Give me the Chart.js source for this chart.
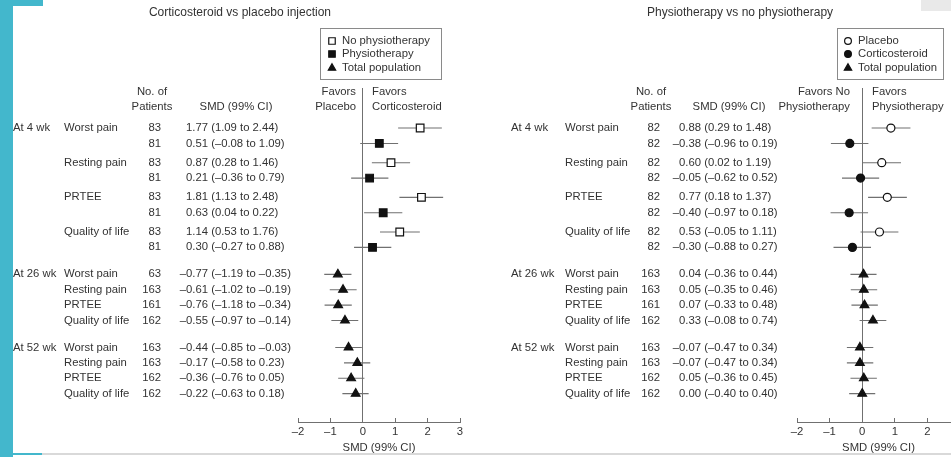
<!DOCTYPE html>
<html>
<head>
<meta charset="utf-8">
<title>SMD forest plots</title>
<script src="https://cdn.jsdelivr.net/npm/chart.js@4.4.1/dist/chart.umd.min.js"></script>
<style>
  html, body { margin: 0; padding: 0; background: #fff; overflow: hidden; }
  body { position: relative; width: 951px; height: 457px; }
  canvas { position: absolute; top: 0; }
  #leftChart { left: 0; }
  #rightChart { left: 480px; }
  .deco { position: absolute; z-index: 2; }
</style>
</head>
<body>
<canvas id="leftChart" width="480" height="457"></canvas>
<canvas id="rightChart" width="520" height="457"></canvas>
<div class="deco" style="left:0;top:0;width:13px;height:457px;background:#43b7cc"></div>
<div class="deco" style="left:0;top:0;width:43px;height:6px;background:#43b7cc"></div>
<div class="deco" style="left:13px;top:453px;width:938px;height:2px;background:#d9d9d9"></div>
<div class="deco" style="left:13px;top:453px;width:29px;height:2px;background:#43b7cc"></div>
<div class="deco" style="left:921px;top:0;width:30px;height:11px;background:#e9e9e9"></div>
<script>
var groups = ['At 4 wk', 'At 26 wk', 'At 52 wk'];
var outcomes = ['Worst pain', 'Resting pain', 'PRTEE', 'Quality of life'];

// corticosteroid vs placebo injection
var csLegend = ['No physiotherapy', 'Physiotherapy', 'Total population'];
var csNoPhysioN   = [83, 83, 83, 83];
var csNoPhysioSmd = [1.77, 0.87, 1.81, 1.14];
var csNoPhysioLo  = [1.09, 0.28, 1.13, 0.53];
var csNoPhysioHi  = [2.44, 1.46, 2.48, 1.76];

var csPhysioN   = [81, 81, 81, 81];
var csPhysioSmd = [0.51, 0.21, 0.63, 0.30];
var csPhysioLo  = [-0.08, -0.36, 0.04, -0.27];
var csPhysioHi  = [1.09, 0.79, 1.22, 0.88];        // whisker as drawn
var csPhysioHiPrinted = [1.09, 0.79, 0.22, 0.88];  // as printed in the table

var cs26N   = [63, 163, 161, 162];
var cs26Smd = [-0.77, -0.61, -0.76, -0.55];
var cs26Lo  = [-1.19, -1.02, -1.18, -0.97];
var cs26Hi  = [-0.35, -0.19, -0.34, -0.14];

var cs52N   = [163, 163, 162, 162];
var cs52Smd = [-0.44, -0.17, -0.36, -0.22];
var cs52Lo  = [-0.85, -0.58, -0.76, -0.63];
var cs52Hi  = [-0.03, 0.23, 0.05, 0.18];

// physiotherapy vs no physiotherapy
var ptLegend = ['Placebo', 'Corticosteroid', 'Total population'];
var ptPlaceboN   = [82, 82, 82, 82];
var ptPlaceboSmd = [0.88, 0.60, 0.77, 0.53];
var ptPlaceboLo  = [0.29, 0.02, 0.18, -0.05];
var ptPlaceboHi  = [1.48, 1.19, 1.37, 1.11];

var ptCortN   = [82, 82, 82, 82];
var ptCortSmd = [-0.38, -0.05, -0.40, -0.30];
var ptCortLo  = [-0.96, -0.62, -0.97, -0.88];
var ptCortHi  = [0.19, 0.52, 0.18, 0.27];

var pt26N   = [163, 163, 161, 162];
var pt26Smd = [0.04, 0.05, 0.07, 0.33];
var pt26Lo  = [-0.36, -0.35, -0.33, -0.08];
var pt26Hi  = [0.44, 0.46, 0.48, 0.74];

var pt52N   = [163, 163, 162, 162];
var pt52Smd = [-0.07, -0.07, 0.05, 0.00];
var pt52Lo  = [-0.47, -0.47, -0.36, -0.40];
var pt52Hi  = [0.34, 0.34, 0.45, 0.40];

var FONT = '"Liberation Sans", Arial, Helvetica, sans-serif';
var INK = '#333';
var LINE = '#707070';
Chart.defaults.font.family = FONT;
Chart.defaults.font.size = 11.3;
Chart.defaults.color = INK;

var markerStyles = {
    openRect:   { style: 'rect', r: 5.4, fill: '#fff' },
    fillRect:   { style: 'rect', r: 5.4, fill: '#111' },
    openCircle: { style: 'circle', r: 4, fill: '#fff' },
    fillCircle: { style: 'circle', r: 4, fill: '#111' },
    tri:        { style: 'triangle', r: 5, fill: '#111' }
};

var leftPanel = {
    id: 'leftChart',
    title: 'Corticosteroid vs placebo injection', titleX: 240,
    padLeft: 298, padRight: 20,
    favors: [['Favors', 'Placebo'], ['Favors', 'Corticosteroid']],
    cols: { group: 13, outcome: 64, n: 161, smd: 186, nHead: 152, smdHead: 236, favL: 356, favR: 372 },
    legend: { x: 320, y: 28, w: 121, h: 51, mx: 332, tx: 342, rows: [41, 54, 68],
              labels: csLegend, markers: ['openRect', 'fillRect', 'tri'] },
    wk4: [
        { marker: 'openRect', n: csNoPhysioN, smd: csNoPhysioSmd, lo: csNoPhysioLo, hi: csNoPhysioHi },
        { marker: 'fillRect', n: csPhysioN, smd: csPhysioSmd, lo: csPhysioLo, hi: csPhysioHi, hiText: csPhysioHiPrinted }
    ],
    later: [
        { marker: 'tri', n: cs26N, smd: cs26Smd, lo: cs26Lo, hi: cs26Hi },
        { marker: 'tri', n: cs52N, smd: cs52Smd, lo: cs52Lo, hi: cs52Hi }
    ]
};

var rightPanel = {
    id: 'rightChart',
    title: 'Physiotherapy vs no physiotherapy', titleX: 260,
    padLeft: 317, padRight: 40,
    favors: [['Favors No', 'Physiotherapy'], ['Favors', 'Physiotherapy']],
    cols: { group: 31, outcome: 85, n: 180, smd: 199, nHead: 171, smdHead: 249, favL: 370, favR: 392 },
    legend: { x: 357, y: 28, w: 106, h: 51, mx: 368, tx: 378, rows: [41, 54, 68],
              labels: ptLegend, markers: ['openCircle', 'fillCircle', 'tri'] },
    wk4: [
        { marker: 'openCircle', n: ptPlaceboN, smd: ptPlaceboSmd, lo: ptPlaceboLo, hi: ptPlaceboHi },
        { marker: 'fillCircle', n: ptCortN, smd: ptCortSmd, lo: ptCortLo, hi: ptCortHi }
    ],
    later: [
        { marker: 'tri', n: pt26N, smd: pt26Smd, lo: pt26Lo, hi: pt26Hi },
        { marker: 'tri', n: pt52N, smd: pt52Smd, lo: pt52Lo, hi: pt52Hi }
    ]
};

// row layout in "row units": pairs at 4 wk, then two blocks of four
var PAIR_STEP = 2.25, BLOCK_START = 9.5, BLOCK_STEP = 4.75;

function buildRows(p) {
    var rows = [];
    for (var k = 0; k < outcomes.length; k++) {
        p.wk4.forEach(function (s, sub) {
            rows.push({ y: k * PAIR_STEP + sub, group: (k === 0 && sub === 0) ? 0 : null,
                        outcome: sub === 0 ? outcomes[k] : '', s: s, k: k });
        });
    }
    p.later.forEach(function (s, gi) {
        for (var k = 0; k < outcomes.length; k++) {
            rows.push({ y: BLOCK_START + gi * BLOCK_STEP + k, group: k === 0 ? gi + 1 : null,
                        outcome: outcomes[k], s: s, k: k });
        }
    });
    return rows;
}

function fmt(v) {
    return (v < 0 ? '\u2013' : '') + Math.abs(v).toFixed(2);
}

function tablePlugin(p, rows) {
    return {
        id: 'table',
        afterDraw: function (chart) {
            var ctx = chart.ctx, ys = chart.scales.y, c = p.cols;
            ctx.save();
            ctx.textBaseline = 'middle';
            ctx.fillStyle = INK;
            function text(t, x, y, align) { ctx.textAlign = align; ctx.fillText(t, x, y); }

            ctx.font = '12px ' + FONT;
            text(p.title, p.titleX, 13, 'center');

            ctx.font = '11.3px ' + FONT;
            text('No. of', c.nHead, 92, 'center');
            text('Patients', c.nHead, 107, 'center');
            text('SMD (99% CI)', c.smdHead, 107, 'center');
            text(p.favors[0][0], c.favL, 92, 'right');
            text(p.favors[0][1], c.favL, 107, 'right');
            text(p.favors[1][0], c.favR, 92, 'left');
            text(p.favors[1][1], c.favR, 107, 'left');

            var dash = ctx.measureText('\u2013').width;
            rows.forEach(function (r) {
                var y = ys.getPixelForValue(r.y), s = r.s, k = r.k;
                if (r.group !== null) text(groups[r.group], c.group, y, 'left');
                if (r.outcome) text(r.outcome, c.outcome, y, 'left');
                text(String(s.n[k]), c.n, y, 'right');
                var hiT = (s.hiText || s.hi)[k];
                var label = fmt(s.smd[k]) + ' (' + fmt(s.lo[k]) + ' to ' + fmt(hiT) + ')';
                text(label, s.smd[k] < 0 ? c.smd - dash : c.smd, y, 'left');
            });

            var L = p.legend;
            ctx.strokeStyle = '#8a8a8a';
            ctx.lineWidth = 1;
            ctx.strokeRect(L.x + 0.5, L.y + 0.5, L.w, L.h);
            L.labels.forEach(function (lab, i) {
                var m = markerStyles[L.markers[i]];
                ctx.fillStyle = m.fill;
                ctx.strokeStyle = '#111';
                ctx.lineWidth = 1.2;
                Chart.helpers.drawPoint(ctx, { pointStyle: m.style, radius: m.r * 0.85, rotation: 0, borderWidth: 1.2 }, L.mx, L.rows[i]);
                ctx.fillStyle = INK;
                text(lab, L.tx, L.rows[i], 'left');
            });
            ctx.restore();
        }
    };
}

function makeChart(p) {
    var rows = buildRows(p);
    var datasets = [];
    ['openRect', 'fillRect', 'openCircle', 'fillCircle', 'tri'].forEach(function (key) {
        var pts = rows.filter(function (r) { return r.s.marker === key; });
        if (!pts.length) return;
        var m = markerStyles[key];
        datasets.push({
            label: key,
            data: pts.map(function (r) { return { x: r.s.smd[r.k], y: r.y }; }),
            pointStyle: m.style,
            pointRadius: m.r,
            pointBackgroundColor: m.fill,
            pointBorderColor: '#111',
            pointBorderWidth: 1.2,
            order: 1
        });
    });
    var whiskers = [];
    rows.forEach(function (r) {
        whiskers.push({ x: r.s.lo[r.k], y: r.y }, { x: r.s.hi[r.k], y: r.y }, { x: null, y: null });
    });
    datasets.push({
        label: 'ci',
        data: whiskers,
        showLine: true,
        spanGaps: false,
        borderColor: LINE,
        borderWidth: 1.1,
        pointRadius: 0,
        order: 5
    });

    return new Chart(document.getElementById(p.id).getContext('2d'), {
        type: 'scatter',
        data: { datasets: datasets },
        options: {
            responsive: false,
            animation: false,
            events: [],
            layout: { padding: { left: p.padLeft, right: p.padRight, top: 88, bottom: 2 } },
            plugins: { legend: { display: false }, tooltip: { enabled: false }, title: { display: false } },
            scales: {
                x: {
                    type: 'linear', min: -2, max: 3,
                    afterFit: function (s) { s.height = 33; },
                    ticks: {
                        stepSize: 1, padding: 7.2, color: INK,
                        callback: function (v) { return v < 0 ? '\u2013' + Math.abs(v) : String(v); }
                    },
                    grid: {
                        drawOnChartArea: true,
                        color: function (c) { return c.tick && c.tick.value === 0 ? LINE : 'rgba(0,0,0,0)'; },
                        tickColor: LINE,
                        tickLength: -4,
                        lineWidth: 1
                    },
                    border: { display: true, color: LINE, width: 1 },
                    title: { display: true, text: 'SMD (99% CI)', color: INK, padding: { top: 0, bottom: 0 } }
                },
                y: { type: 'linear', display: false, reverse: true, min: -2.6, max: 19.09 }
            }
        },
        plugins: [tablePlugin(p, rows)]
    });
}

makeChart(leftPanel);
makeChart(rightPanel);
</script>
</body>
</html>
